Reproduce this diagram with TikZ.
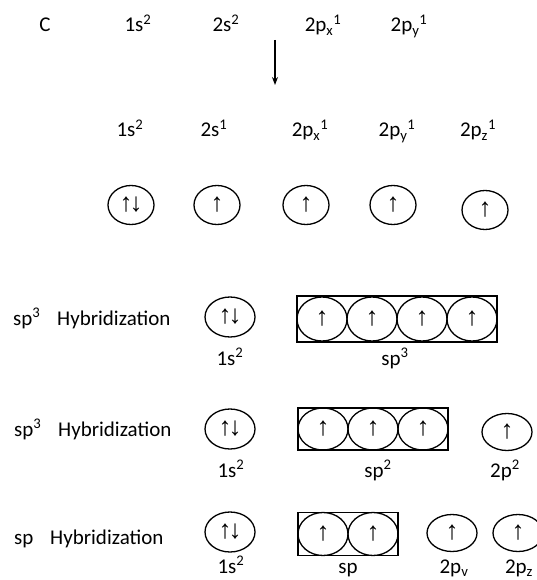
\documentclass[tikz,border=0pt]{standalone}
\usepackage{fontspec}
\setmainfont{Carlito}
\newfontfamily\arrfont{Liberation Sans}
\usetikzlibrary{shapes.geometric,arrows.meta}
\newcommand{\myup}[1]{\textsuperscript{#1}}
\newcommand{\mydn}[1]{\textsubscript{#1}}
\newcommand{\spinu}{{\arrfont ↑}}
\newcommand{\spinud}{{\arrfont ↑\kern-3pt↓}}
\tikzset{
  lbl/.style={font=\fontsize{21}{25}\selectfont, anchor=base, inner sep=0pt},
  lbll/.style={font=\fontsize{21}{25}\selectfont, anchor=base west, inner sep=0pt},
  orb/.style={draw, ellipse, line width=1.3pt, minimum width=46pt, minimum height=39pt,
    inner sep=0pt, font=\fontsize{26}{26}\selectfont},
  horb/.style={orb, minimum width=50pt, minimum height=40pt},
  inorb/.style={orb, minimum width=50pt, minimum height=44pt},
  hbox/.style={draw, line width=1.3pt, inner sep=0pt},
  conn/.style={-{Stealth[length=8pt,width=6pt]}, line width=1.2pt}
}
\begin{document}
\begin{tikzpicture}[x=1pt,y=-1pt]
\useasboundingbox (0,0) rectangle (536,580);
% row 1
\node[lbl] (c) at (45,32) {C};
\node[lbl] (a1) at (138,32) {1s\myup{2}};
\node[lbl] (a2) at (226,32) {2s\myup{2}};
\node[lbl] (a3) at (323,32) {2p\mydn{x}\myup{1}};
\node[lbl] (a4) at (409,32) {2p\mydn{y}\myup{1}};
% arrow
\coordinate (ar1) at (275,40);
\coordinate (ar2) at (275,85);
\draw[conn] (ar1) -- (ar2);
% row 2
\node[lbl] (b1) at (130,137) {1s\myup{2}};
\node[lbl] (b2) at (214,137) {2s\myup{1}};
\node[lbl] (b3) at (310,137) {2p\mydn{x}\myup{1}};
\node[lbl] (b4) at (397,137) {2p\mydn{y}\myup{1}};
\node[lbl] (b5) at (478,137) {2p\mydn{z}\myup{1}};
% row 3 orbitals
\node[orb] (o1) at (131,205) {\spinud};
\node[orb] (o2) at (217,205) {\spinu};
\node[orb] (o3) at (306,205) {\spinu};
\node[orb] (o4) at (393,205) {\spinu};
\node[orb] (o5) at (485,210) {\spinu};
% sp3 row
\node[lbll] (h1) at (13,325) {sp\myup{3}\hspace{0.8em}Hybridization};
\node[horb] (s1) at (230,317) {\spinud};
\node[hbox, minimum width=200pt, minimum height=46pt] (bx1) at (397,319) {};
\node[inorb] (p11) at (322,319) {\spinu};
\node[inorb] (p12) at (372,319) {\spinu};
\node[inorb] (p13) at (422,319) {\spinu};
\node[inorb] (p14) at (472,319) {\spinu};
\node[lbl] (l11) at (230,365) {1s\myup{2}};
\node[lbl] (l12) at (395,365) {sp\myup{3}};
% sp2 row
\node[lbll] (h2) at (14,436) {sp\myup{3}\hspace{0.8em}Hybridization};
\node[horb] (s2) at (230,429) {\spinud};
\node[hbox, minimum width=150pt, minimum height=42pt] (bx2) at (373,429) {};
\node[inorb, minimum height=42pt] (p21) at (323,429) {\spinu};
\node[inorb, minimum height=42pt] (p22) at (373,429) {\spinu};
\node[inorb, minimum height=42pt] (p23) at (423,429) {\spinu};
\node[horb, minimum height=37pt] (q21) at (507,432) {\spinu};
\node[lbl] (l21) at (231,477) {1s\myup{2}};
\node[lbl] (l22) at (378,477) {sp\myup{2}};
\node[lbl] (l23) at (505,477) {2p\myup{2}};
% sp row
\node[lbll] (h3) at (14,544) {sp\hspace{0.8em}Hybridization};
\node[horb] (s3) at (230,532) {\spinud};
\node[hbox, minimum width=100pt, minimum height=43pt] (bx3) at (348,534) {};
\node[inorb, minimum height=43pt] (p31) at (323,534) {\spinu};
\node[inorb, minimum height=43pt] (p32) at (373,534) {\spinu};
\node[horb, minimum height=37pt] (q31) at (452,533) {\spinu};
\node[horb, minimum height=37pt] (q32) at (518,533) {\spinu};
\node[lbl] (l31) at (231,573) {1s\myup{2}};
\node[lbl] (l32) at (348,573) {sp};
\node[lbl] (l33) at (454,573) {2p\mydn{v}};
\node[lbl] (l34) at (519,573) {2p\mydn{z}};
\end{tikzpicture}
\end{document}
